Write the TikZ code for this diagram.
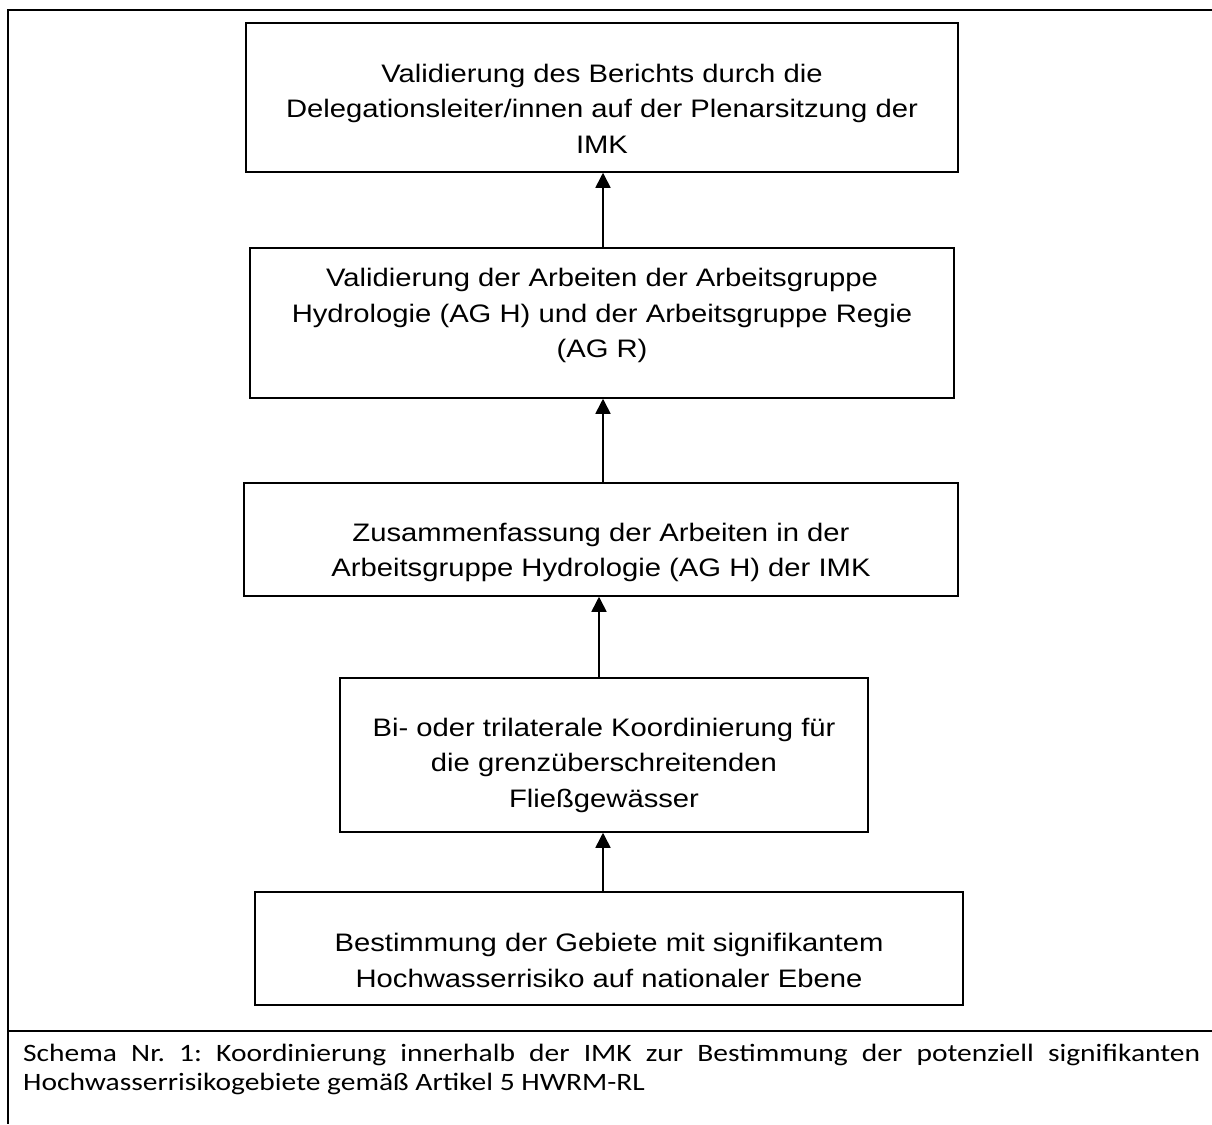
\documentclass[tikz,border=0pt]{standalone}
\usepackage{fontspec}
\newfontfamily\boxfont{Liberation Sans}[FakeStretch=1.155]
\newfontfamily\capfont{Carlito}[FakeStretch=1.18]
\usetikzlibrary{arrows.meta}
\frenchspacing

\begin{document}
\begin{tikzpicture}[x=1pt, y=-1pt]
        \tikzset{stepbox/.style = {shape=rectangle, draw, line width=1.5pt, inner sep=0pt}}
        \tikzset{steptext/.style = {anchor=north, inner sep=0pt, align=center, font=\boxfont\fontsize{25.3}{35.7}\selectfont}}
        \tikzset{flow/.style = {-{Triangle[length=15pt,width=15pt]}, line width=1.6pt}}

        \useasboundingbox (0,0) rectangle (1212,1124);

        % Tabellenrahmen
        \draw[line width=2pt] (1212,10) -- (7.5,10) -- (7.5,1124);
        \draw[line width=2pt] (7.5,1031) -- (1212,1031);

        \node[stepbox, minimum width=712pt, minimum height=149pt] (b1) at (602, 97.5) {};
        \node[stepbox, minimum width=704pt, minimum height=150pt] (b2) at (602, 323) {};
        \node[stepbox, minimum width=714pt, minimum height=113pt] (b3) at (601, 539.5) {};
        \node[stepbox, minimum width=528pt, minimum height=154pt] (b4) at (604, 755) {};
        \node[stepbox, minimum width=708pt, minimum height=113pt] (b5) at (609, 948.5) {};

        \node[steptext] (t1) at (602, 63.5) {Validierung des Berichts durch die\\Delegationsleiter/innen auf der Plenarsitzung der\\IMK};
        \node[steptext] (t2) at (602, 268) {Validierung der Arbeiten der Arbeitsgruppe\\Hydrologie (AG H) und der Arbeitsgruppe Regie\\(AG R)};
        \node[steptext] (t3) at (601, 522.5) {Zusammenfassung der Arbeiten in der\\Arbeitsgruppe Hydrologie (AG H) der IMK};
        \node[steptext] (t4) at (604, 717.5) {Bi- oder trilaterale Koordinierung für\\die grenzüberschreitenden\\Fließgewässer};
        \node[steptext] (t5) at (609, 933) {Bestimmung der Gebiete mit signifikantem\\Hochwasserrisiko auf nationaler Ebene};

        \draw[flow] ([xshift=1pt]b2.north) coordinate (a1) -- (a1 |- b1.south);
        \draw[flow] ([xshift=2pt]b3.north) coordinate (a2) -- (a2 |- b2.south);
        \draw[flow] ([xshift=-5pt]b4.north) coordinate (a3) -- (a3 |- b3.south);
        \draw[flow] ([xshift=-6pt]b5.north) coordinate (a4) -- (a4 |- b4.south);

        \node[anchor=north west, inner sep=0pt, text width=1177pt, align=justify, font=\capfont\fontsize{25}{29}\selectfont] (cap) at (23, 1043.5) {Schema Nr. 1: Koordinierung innerhalb der IMK zur Bestimmung der potenziell signifikanten\linebreak Hochwasserrisikogebiete gemäß Artikel 5 HWRM-RL};
      \end{tikzpicture}
\end{document}
